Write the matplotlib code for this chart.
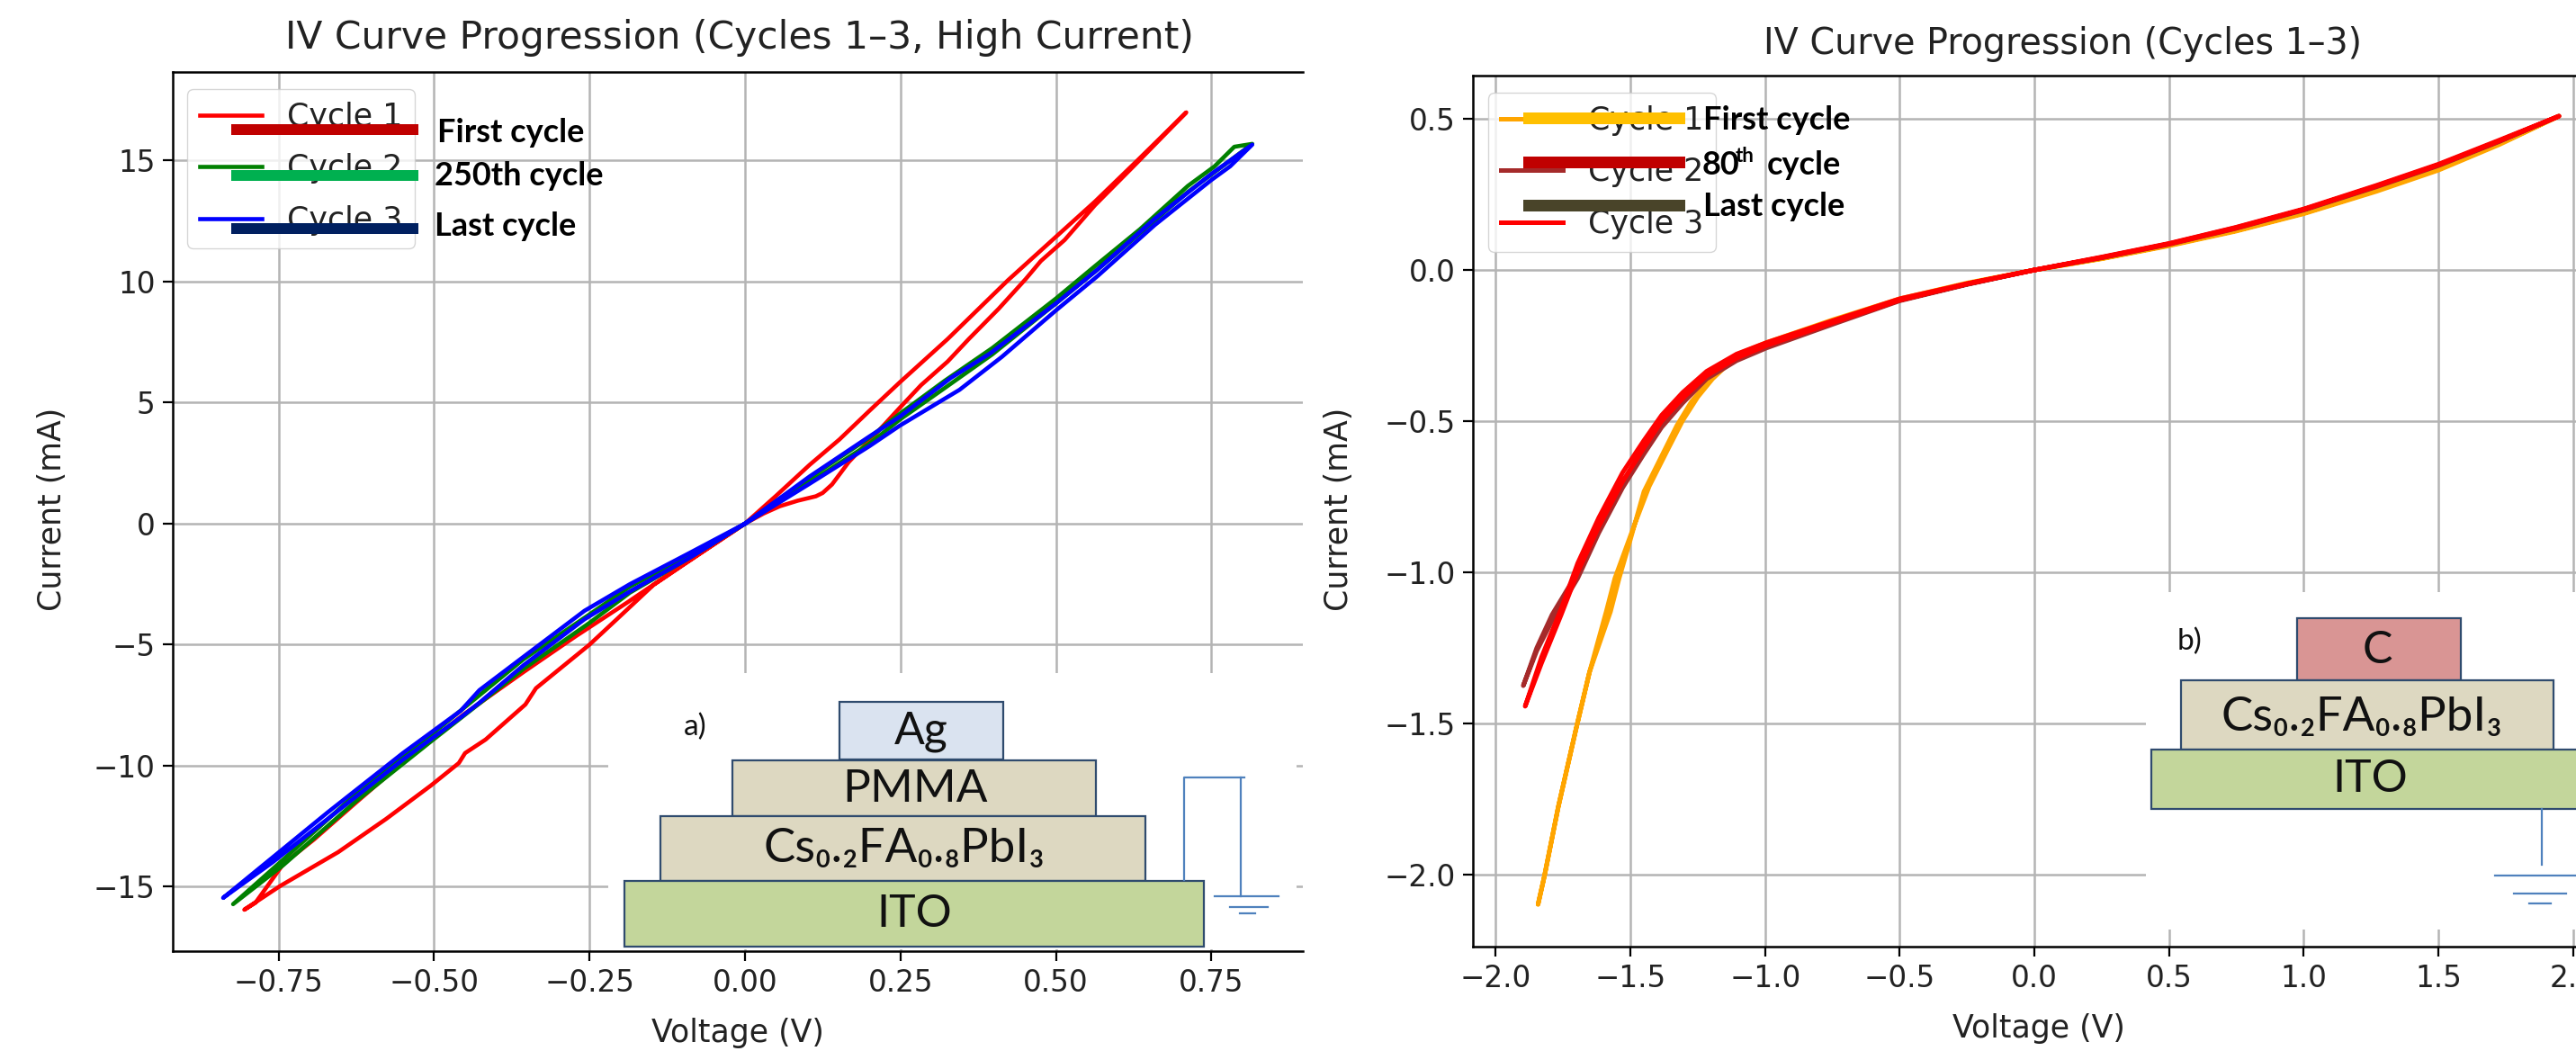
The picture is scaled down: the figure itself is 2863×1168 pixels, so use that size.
"""IV curve progression panels with the two device stack sketches pasted on top."""
import matplotlib
matplotlib.use("Agg")
import matplotlib.pyplot as plt
from matplotlib.patches import Rectangle
from matplotlib.lines import Line2D
from matplotlib.transforms import Affine2D

W, H = 2863, 1168

# left panel: high current loops
a1_v = [0, 0.03, 0.056, 0.085, 0.114, 0.125, 0.14, 0.167, 0.21, 0.249, 0.283, 0.326, 0.36, 0.408, 0.4515, 0.4757, 0.514,
        0.5625, 0.63, 0.7096,
        0.63, 0.5625, 0.5, 0.4226, 0.326, 0.249, 0.2, 0.152, 0.104, 0.05, 0,
        -0.1, -0.19, -0.272, -0.356, -0.45, -0.55, -0.627, -0.693, -0.742, -0.787, -0.805,
        -0.748, -0.654, -0.577, -0.505, -0.46, -0.45, -0.417, -0.353, -0.336, -0.25, -0.204, -0.147, -0.07, 0]
a1_i = [0, 0.42, 0.72, 0.95, 1.13, 1.27, 1.62, 2.55, 3.7, 4.79, 5.72, 6.7, 7.63, 8.88, 10.11, 10.85, 11.72,
        13.15, 14.9, 16.99,
        14.98, 13.3, 11.85, 10.05, 7.63, 5.84, 4.66, 3.48, 2.43, 1.15, 0,
        -1.7, -3.27, -4.65, -6.13, -7.84, -9.85, -11.56, -13.05, -14.05, -15.66, -15.95,
        -14.98, -13.57, -12.2, -10.82, -9.89, -9.48, -8.92, -7.47, -6.8, -5.0, -3.9, -2.53, -1.2, 0]
a2_v = [0, 0.104, 0.2, 0.249, 0.321, 0.398, 0.5, 0.567, 0.635, 0.712, 0.755, 0.7868, 0.8157,
        0.78, 0.712, 0.635, 0.567, 0.5, 0.398, 0.321, 0.249, 0.2, 0.104, 0,
        -0.0883, -0.185, -0.25, -0.356, -0.505, -0.627, -0.742, -0.823,
        -0.742, -0.627, -0.505, -0.356, -0.25, -0.185, -0.0883, 0]
a2_i = [0, 1.9, 3.55, 4.54, 5.9, 7.26, 9.3, 10.73, 12.16, 13.95, 14.76, 15.57, 15.69,
        15.0, 13.7, 12.0, 10.5, 9.1, 7.0, 5.6, 4.3, 3.3, 1.7, 0,
        -1.3, -2.6, -3.75, -5.6, -8.73, -11.2, -13.87, -15.72,
        -14.1, -11.5, -9.0, -6.0, -4.1, -2.85, -1.4, 0]
a3_v = [0, 0.104, 0.2, 0.249, 0.331, 0.394, 0.5, 0.567, 0.659, 0.75, 0.8157,
        0.78, 0.75, 0.659, 0.567, 0.5, 0.413, 0.345, 0.249, 0.2, 0.104, 0,
        -0.0883, -0.185, -0.258, -0.356, -0.427, -0.457, -0.55, -0.671, -0.76, -0.839,
        -0.76, -0.671, -0.55, -0.457, -0.427, -0.356, -0.258, -0.185, -0.0883, 0]
a3_i = [0, 1.95, 3.6, 4.42, 6.02, 7.03, 9.1, 10.5, 12.6, 14.45, 15.66,
        14.76, 14.2, 12.34, 10.23, 8.81, 6.89, 5.53, 4.05, 3.2, 1.65, 0,
        -1.2, -2.5, -3.6, -5.5, -6.88, -7.73, -9.48, -11.93, -13.8, -15.46,
        -14.0, -12.2, -9.75, -8.0, -7.4, -5.85, -3.95, -2.8, -1.4, 0]

# right panel
b1_v = [0, 0.25, 0.5, 0.747, 1.0, 1.27, 1.5, 1.727, 1.948,
        1.727, 1.5, 1.27, 1.0, 0.747, 0.5, 0.25, 0, -0.25, -0.5, -0.75, -0.995, -1.106, -1.195, -1.25, -1.306, -1.362, -1.43,
        -1.486, -1.558, -1.59, -1.652, -1.702, -1.768, -1.819, -1.843,
        -1.819, -1.768, -1.702, -1.652, -1.574, -1.542, -1.506, -1.45, -1.384, -1.328, -1.274, -1.217, -1.106, -0.995,
        -0.75, -0.5, -0.25, 0]
b1_i = [0, 0.038, 0.082, 0.13, 0.188, 0.263, 0.333, 0.418, 0.509,
        0.415, 0.33, 0.26, 0.186, 0.128, 0.08, 0.037, 0, -0.045, -0.098, -0.17, -0.245, -0.285, -0.36, -0.42, -0.498, -0.595, -0.715,
        -0.845, -1.02, -1.13, -1.33, -1.518, -1.776, -2.003, -2.098,
        -2.003, -1.776, -1.518, -1.33, -1.13, -1.02, -0.91, -0.733, -0.615, -0.515, -0.436, -0.375, -0.28, -0.24,
        -0.165, -0.095, -0.043, 0]
b2_v = [0, 0.25, 0.5, 0.747, 1.0, 1.27, 1.5, 1.727, 1.948,
        1.727, 1.5, 1.27, 1.0, 0.747, 0.5, 0.25, 0, -0.25, -0.5, -0.75, -0.995, -1.106, -1.217, -1.306, -1.384, -1.451, -1.529, -1.618, -1.696, -1.791, -1.848, -1.898,
        -1.848, -1.791, -1.696, -1.618, -1.529, -1.451, -1.384, -1.306, -1.217, -1.106, -0.995, -0.75, -0.5, -0.25, 0]
b2_i = [0, 0.042, 0.087, 0.14, 0.2, 0.278, 0.348, 0.427, 0.509,
        0.425, 0.345, 0.275, 0.198, 0.137, 0.085, 0.04, 0, -0.047, -0.1, -0.175, -0.25, -0.29, -0.35, -0.425, -0.505, -0.59, -0.7, -0.85, -1.0, -1.14, -1.25, -1.375,
        -1.26, -1.16, -1.02, -0.87, -0.72, -0.61, -0.52, -0.44, -0.36, -0.3, -0.258, -0.18, -0.102, -0.048, 0]
b3_v = [0, 0.25, 0.5, 0.747, 1.0, 1.27, 1.5, 1.727, 1.948,
        1.727, 1.5, 1.27, 1.0, 0.747, 0.5, 0.25, 0, -0.25, -0.5, -0.75, -0.995, -1.106, -1.217, -1.306, -1.384, -1.451, -1.529, -1.618, -1.696, -1.757, -1.83, -1.891,
        -1.83, -1.757, -1.696, -1.618, -1.529, -1.451, -1.384, -1.306, -1.217, -1.106, -0.995, -0.75, -0.5, -0.25, 0]
b3_i = [0, 0.043, 0.088, 0.141, 0.202, 0.28, 0.35, 0.43, 0.509,
        0.427, 0.347, 0.277, 0.2, 0.138, 0.086, 0.041, 0, -0.045, -0.095, -0.168, -0.24, -0.278, -0.335, -0.405, -0.48, -0.565, -0.67, -0.82, -0.97, -1.12, -1.28, -1.443,
        -1.3, -1.14, -1.0, -0.85, -0.7, -0.59, -0.5, -0.425, -0.35, -0.292, -0.25, -0.175, -0.1, -0.046, 0]

cycle_labels = ["Cycle 1", "Cycle 2", "Cycle 3"]
left_colors = ["red", "green", "blue"]
right_colors = ["orange", "brown", "red"]
stack_a = ["Ag", "PMMA", "Cs₀.₂FA₀.₈PbI₃", "ITO"]
stack_b = ["C", "Cs₀.₂FA₀.₈PbI₃", "ITO"]

px = Affine2D().scale(1, -1).translate(0, H)  # reference pixels, y down

fig = plt.figure(figsize=(W / 100, H / 100), dpi=100)


def panel(box, xlim, ylim, series, colors, lw, xticks, yticks, xfmt, yfmt):
    x0, y0, x1, y1 = box
    ax = fig.add_axes([x0 / W, 1 - y1 / H, (x1 - x0) / W, (y1 - y0) / H])
    for (v, i), c, lab in zip(series, colors, cycle_labels):
        ax.plot(v, i, color=c, lw=lw, label=lab)
    ax.set_xlim(*xlim)
    ax.set_ylim(*ylim)
    ax.set_xticks(xticks)
    ax.set_yticks(yticks)
    ax.set_xticklabels([xfmt.format(t).replace("-", "−") for t in xticks])
    ax.set_yticklabels([yfmt.format(t).replace("-", "−") for t in yticks])
    ax.grid(True, color="#b4b4b4", lw=1.8)
    ax.tick_params(labelsize=23.5, length=8, width=1.6, pad=6, labelcolor="#222222")
    for s in ax.spines.values():
        s.set_linewidth(1.8)
    ax.spines["right"].set_visible(False)
    return ax


ax1 = panel((192, 80, 1448, 1057), (-0.920, 0.897), (-17.66, 18.66),
            [(a1_v, a1_i), (a2_v, a2_i), (a3_v, a3_i)], left_colors, 3.3,
            [-0.75, -0.5, -0.25, 0, 0.25, 0.5, 0.75], [-15, -10, -5, 0, 5, 10, 15],
            "{:.2f}", "{:d}")
ax2 = panel((1637, 84, 2907, 1052), (-2.085, 2.158), (-2.238, 0.643),
            [(b1_v, b1_i), (b2_v, b2_i), (b3_v, b3_i)], right_colors, 3.6,
            [-2, -1.5, -1, -0.5, 0, 0.5, 1, 1.5, 2], [-2, -1.5, -1, -0.5, 0, 0.5],
            "{:.1f}", "{:.1f}")

for ax, box in ((ax1, (208, 99)), (ax2, (1654, 103))):
    x0, y0 = box
    ax.legend(loc="upper left", bbox_to_anchor=(x0 / W, 1 - y0 / H), bbox_transform=fig.transFigure,
              borderaxespad=0, fontsize=25, labelspacing=0.68, labelcolor="#222222")


def ftext(x, y, s, size, **kw):
    kw.setdefault("ha", "center")
    kw.setdefault("va", "center")
    kw.setdefault("zorder", 9)
    return fig.text(x, y, s, fontsize=size, transform=px, **kw)


def box(x0, y0, x1, y1, fc, ec="none", lw=0, z=6):
    fig.add_artist(Rectangle((x0, y0), x1 - x0, y1 - y0, fc=fc, ec=ec, lw=lw, transform=px, zorder=z))


def wire(xs, ys, color="#4F81BD", lw=1.6):
    fig.add_artist(Line2D(xs, ys, color=color, lw=lw, transform=px, zorder=7))


# titles and axis labels
ftext(822, 42, "IV Curve Progression (Cycles 1–3, High Current)", 30.5, color="#222222")
ftext(2293, 49, "IV Curve Progression (Cycles 1–3)", 28.5, color="#222222")
ftext(820, 1148, "Voltage (V)", 25, color="#222222")
ftext(2266, 1143, "Voltage (V)", 25, color="#222222")
ftext(58, 566, "Current (mA)", 25, rotation=90, color="#222222")
ftext(1488, 566, "Current (mA)", 25, rotation=90, color="#222222")

# pasted legend bars and their labels
for y0, c in ((138, "#C00000"), (189, "#00B050"), (248, "#002060")):
    box(257, y0, 465, y0 + 12, c)
for y0, c in ((125, "#FFC000"), (174, "#C00000"), (222, "#494429")):
    box(1693, y0, 1873, y0 + 12.5, c)
bold = dict(fontweight="bold", family="Lato", ha="left", color="black")
ftext(486, 147, "First cycle", 26, **bold)
ftext(483, 196, "250th cycle", 26, **bold)
ftext(483, 252, "Last cycle", 26, **bold)
ftext(1893, 133, "First cycle", 26, **bold)
ftext(1892, 183, "80", 26, **bold)
ftext(1929, 174, "th", 16, **bold)
ftext(1964, 183, "cycle", 26, **bold)
ftext(1893, 230, "Last cycle", 26, **bold)

# device sketch a)
edge = dict(ec="#2F4B6E", lw=1.6)
stack_font = ["Lato", "DejaVu Sans"]
box(676, 748, 1441, 1055, "white", z=5)
box(933, 780, 1115, 844, "#DAE3F0", **edge)
box(813.5, 845, 1218, 907, "#DDD8C1", **edge)
box(734, 907, 1273, 979, "#DDD8C1", **edge)
box(694, 979, 1338, 1052, "#C3D69B", **edge)
for (x, y), s, size in zip([(1024, 813), (1017, 877), (1005, 944), (1016, 1016)], stack_a, [36, 37, 38, 36]):
    ftext(x, y, s, size, family=stack_font, color="#111111")
ftext(773, 808, "a)", 24, family="Lato", color="#111111")
wire([1316, 1316, 1383], [978, 864, 864])
wire([1379, 1379], [864, 996])
wire([1350, 1421], [996, 996])
wire([1367, 1409], [1008, 1008])
wire([1378, 1395], [1015, 1015])

# device sketch b)
box(2385, 658, 2863, 1033, "white", z=5)
box(2553, 687, 2735, 756, "#D99594", **edge)
box(2424, 756, 2837.5, 833, "#DDD8C1", **edge)
box(2391, 833, 2880, 899, "#C3D69B", **edge)
for (x, y), s, size in zip([(2642, 723), (2625, 797), (2634, 866)], stack_b, [36, 38, 36]):
    ftext(x, y, s, size, family=stack_font, color="#111111")
ftext(2434, 713, "b)", 24, family="Lato", color="#111111")
wire([2825, 2825], [899, 961])
wire([2773, 2870], [973, 973])
wire([2794, 2852], [993, 993])
wire([2811, 2835], [1004, 1004])

fig.savefig("out.png", dpi=100)
